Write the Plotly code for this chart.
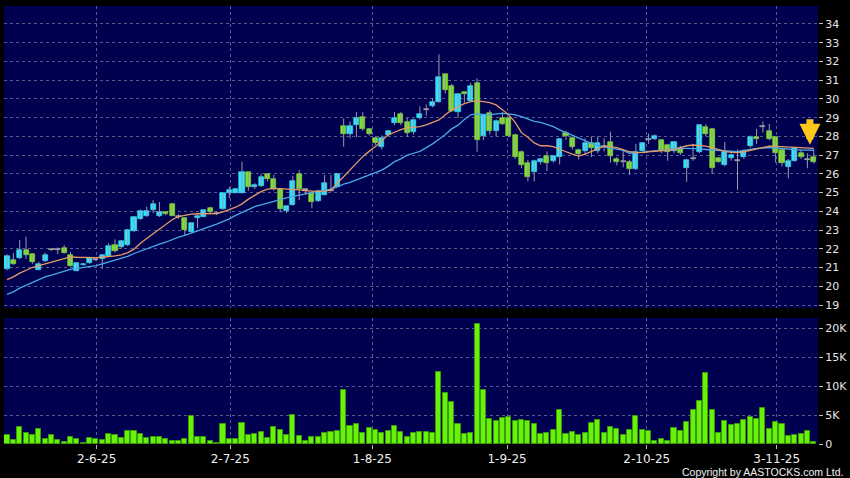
import plotly.graph_objects as go

# ---------------- data ----------------
opens = [20.9, 21.4, 21.5, 21.96, 21.7, 20.88, 21.33, 21.95, 21.95, 22.02,
         21.67, 20.82, 21.15, 21.23, 21.42, 21.46, 21.63, 22.2, 22.07, 22.2, 22.93,
         23.58, 23.75, 24.07, 23.75, 23.95, 24.38, 23.72, 23.63, 22.88, 23.63,
         23.72, 24.2, 23.9, 24.13, 24.98, 25.0, 25.0, 26.08, 25.28, 25.37,
         25.98, 25.71, 25.18, 24.04, 24.34, 25.98, 25.14, 25.0, 24.55, 24.88,
         25.1, 25.32, 28.58, 28.11, 28.6, 29.06, 28.38, 27.93, 27.42, 28.08,
         28.7, 29.2, 28.78, 28.22, 28.96, 29.45, 29.64, 29.85, 31.31, 30.71,
         29.32, 30.38, 29.9, 30.83, 28.0, 29.26, 28.28, 28.96, 29.0, 28.1,
         27.18, 26.56, 26.08, 26.65, 26.95, 26.7, 26.91, 28.16, 27.93, 27.27,
         27.23, 27.66, 27.23, 27.45, 27.72, 26.77, 26.65, 26.61, 26.24, 27.23,
         27.84, 27.86, 27.8, 27.54, 27.23, 27.4, 26.29, 26.83, 27.18, 28.52,
         28.37, 26.83, 26.47, 26.83, 26.7, 26.88, 27.5, 27.98, 28.55, 28.3,
         27.95, 27.3, 26.38, 26.7, 27.09, 26.77, 26.88]
highs = [21.7, 21.77, 22.46, 22.65, 21.75, 21.3, 21.8, 22.0, 22.07, 22.2,
         21.82, 21.3, 21.25, 21.55, 21.5, 21.7, 22.3, 22.5, 22.45, 23.05, 23.75,
         24.1, 24.25, 24.6, 24.5, 24.0, 24.45, 23.85, 23.7, 23.4, 23.85,
         24.1, 24.25, 24.0, 24.98, 25.3, 25.25, 26.65, 26.1, 25.5, 26.0,
         26.05, 25.95, 25.2, 24.3, 25.9, 26.2, 25.2, 25.05, 25.15, 25.94,
         25.94, 26.05, 28.95, 28.8, 29.3, 29.29, 28.45, 28.0, 28.05, 28.35,
         29.3, 29.3, 29.0, 28.95, 29.6, 29.7, 30.05, 32.38, 31.35, 30.8,
         30.3, 30.4, 30.85, 31.1, 29.14, 29.4, 28.9, 29.3, 29.05, 28.15,
         27.25, 26.75, 26.75, 26.85, 27.2, 27.0, 27.9, 28.3, 28.0, 27.35,
         27.9, 28.0, 28.0, 27.9, 28.25, 26.9, 27.3, 26.75, 27.6, 27.7,
         28.15, 28.1, 27.85, 27.6, 27.75, 27.5, 26.8, 27.6, 28.65, 28.65,
         28.45, 26.9, 27.7, 27.1, 27.3, 27.3, 28.05, 28.4, 28.8, 28.66,
         28.0, 27.35, 26.8, 27.45, 27.3, 27.1, 27.3]
lows = [20.85, 21.15, 21.45, 21.46, 21.2, 20.85, 21.3, 21.9, 21.72, 21.75,
        21.05, 20.8, 21.1, 21.2, 21.35, 20.93, 21.6, 21.8, 22.0, 22.15, 22.9,
        23.55, 23.7, 23.9, 23.7, 23.8, 23.75, 23.6, 22.69, 22.85, 23.1,
        23.7, 23.9, 23.8, 24.08, 24.7, 24.95, 24.95, 25.1, 25.2, 25.3,
        25.6, 25.1, 23.95, 23.9, 24.3, 24.6, 24.9, 24.16, 24.5, 24.85,
        25.05, 25.3, 27.45, 27.9, 27.95, 28.3, 28.05, 27.55, 27.3, 28.0,
        28.6, 28.6, 27.98, 28.1, 28.9, 29.1, 29.55, 29.8, 30.3, 29.3,
        29.0, 29.8, 29.85, 27.18, 27.8, 28.1, 28.0, 28.6, 27.95, 26.8,
        26.3, 25.6, 25.6, 26.5, 26.15, 26.6, 26.5, 27.8, 27.3, 26.77,
        27.0, 26.9, 27.1, 27.2, 26.6, 26.45, 26.35, 25.95, 26.2, 27.2,
        27.6, 27.8, 27.1, 26.7, 27.1, 27.0, 25.58, 26.7, 27.1, 28.0,
        25.99, 26.6, 26.4, 26.7, 25.14, 26.8, 27.4, 27.6, 28.2, 27.8,
        26.6, 26.4, 25.76, 26.65, 26.8, 26.3, 26.55]
closes = [21.6, 21.2, 21.93, 21.67, 21.28, 21.18, 21.65, 21.95, 21.95, 21.77,
          21.07, 21.25, 21.2, 21.49, 21.42, 21.65, 22.16, 21.86, 22.42, 23.0, 23.7,
          24.02, 24.02, 24.4, 23.95, 23.85, 23.77, 23.72, 23.0, 23.36, 23.75,
          24.07, 23.95, 23.9, 24.96, 25.14, 25.18, 26.08, 25.28, 25.4, 25.82,
          25.71, 25.18, 24.1, 24.29, 25.62, 25.2, 25.14, 24.52, 25.09, 25.53,
          25.1, 25.98, 28.11, 28.58, 29.0, 28.38, 28.11, 27.67, 27.93, 28.3,
          28.97, 28.74, 28.17, 28.88, 29.18, 29.45, 29.85, 31.19, 30.48, 29.37,
          30.26, 30.24, 30.71, 27.8, 29.14, 28.28, 28.82, 28.64, 28.04, 26.88,
          26.47, 25.85, 26.68, 26.79, 26.6, 26.95, 27.84, 28.02, 27.41, 27.06,
          27.66, 27.36, 27.63, 27.45, 26.95, 26.61, 26.65, 26.24, 27.18, 27.63,
          27.84, 28.02, 27.23, 27.15, 27.68, 27.09, 26.74, 26.83, 28.6, 28.12,
          26.29, 26.65, 27.18, 27.0, 26.7, 27.23, 27.98, 27.84, 28.55, 27.84,
          27.09, 26.56, 26.7, 27.36, 26.88, 26.77, 26.61]
ma_short = [20.35, 20.5, 20.7, 20.85, 21.0, 21.1, 21.2, 21.3, 21.4, 21.5,
            21.57, 21.55, 21.53, 21.53, 21.53, 21.55, 21.58, 21.62, 21.68, 21.8,
            21.98, 22.3, 22.55, 22.8, 23.05, 23.3, 23.55, 23.72, 23.8, 23.85,
            23.87, 23.87, 23.85, 23.88, 23.97, 24.08, 24.22, 24.4, 24.65, 24.85,
            25.05, 25.18, 25.22, 25.21, 25.2, 25.18, 25.14, 25.1, 25.07, 25.05,
            25.08, 25.14, 25.5, 25.85, 26.2, 26.55, 26.92, 27.2, 27.46, 27.77,
            28.08, 28.22, 28.36, 28.45, 28.48, 28.52, 28.62, 28.75, 28.88, 29.15, 29.4,
            29.58, 29.75, 29.85, 29.9, 29.86, 29.8, 29.68, 29.4, 29.15, 28.75,
            28.2, 27.95, 27.65, 27.5, 27.5, 27.45, 27.3, 27.18, 27.05, 26.95,
            27.05, 27.2, 27.35, 27.48, 27.45, 27.4, 27.3, 27.18, 27.15, 27.13,
            27.17, 27.2, 27.25, 27.28, 27.3, 27.4, 27.5, 27.54, 27.52, 27.48,
            27.4, 27.28, 27.2, 27.15, 27.13, 27.18, 27.25, 27.32, 27.4, 27.48,
            27.47, 27.45, 27.43, 27.41, 27.39, 27.37, 27.36]
ma_long = [19.57, 19.7, 19.9, 20.05, 20.2, 20.35, 20.5, 20.6, 20.7, 20.8,
           20.9, 20.95, 21.0, 21.05, 21.1, 21.2, 21.3, 21.4, 21.5, 21.6,
           21.75, 21.88, 22.0, 22.15, 22.25, 22.35, 22.5, 22.62, 22.72, 22.85,
           22.97, 23.08, 23.2, 23.32, 23.45, 23.6, 23.78, 23.95, 24.12, 24.25,
           24.35, 24.45, 24.55, 24.65, 24.72, 24.8, 24.88, 24.95, 25.0, 25.07,
           25.12, 25.18, 25.3, 25.45, 25.55, 25.68, 25.8, 25.92, 26.05, 26.2,
           26.4, 26.65, 26.8, 27.0, 27.1, 27.2, 27.4, 27.6, 27.85, 28.1, 28.4,
           28.6, 28.9, 29.15, 29.2, 29.18, 29.15, 29.2, 29.23, 29.2, 29.15,
           29.05, 28.92, 28.8, 28.75, 28.65, 28.52, 28.35, 28.2, 28.05, 27.9,
           27.75, 27.63, 27.52, 27.42, 27.36, 27.32, 27.25, 27.1, 27.12, 27.16,
           27.2, 27.24, 27.28, 27.32, 27.36, 27.36, 27.36, 27.36, 27.33, 27.3,
           27.28, 27.25, 27.23, 27.2, 27.18, 27.25, 27.32, 27.36, 27.38, 27.4,
           27.38, 27.35, 27.3, 27.28, 27.27, 27.27, 27.26]
volumes = [1575, 640, 2900, 1870, 1520, 2570, 820, 1630, 700, 410,
           1280, 820, 230, 1110, 820, 700, 1750, 1630, 1050, 2270, 2330,
           1750, 1110, 1280, 1220, 820, 580, 580, 930, 4780, 1220,
           1280, 580, 230, 3380, 930, 930, 3610, 1570, 1750, 2100,
           1110, 2860, 2500, 1630, 5010, 1400, 470, 1280, 1170, 1980,
           2040, 2330, 9270, 3030, 3500, 1920, 2680, 2450, 1980, 2220,
           3150, 2100, 1280, 1980, 2040, 2040, 1870, 12360, 8745, 7290,
           3500, 1750, 1920, 20700, 9330, 4260, 3900, 4550, 4660, 3960,
           4080, 3900, 3500, 1750, 1980, 2450, 5830, 1750, 2100, 1520,
           1870, 3610, 4200, 1980, 2860, 2620, 1630, 2500, 4780, 2500,
           2270, 580, 930, 470, 2800, 2160, 3730, 5830, 7400, 12240,
           5830, 1870, 3900, 3260, 3380, 4080, 4660, 4260, 6300, 2620,
           3790, 3440, 1340, 1570, 1690, 2220, 290]
date_tick_pos = [14.12, 35.15, 57.51, 78.72, 100.71, 121.17]
date_tick_labels = ["2-6-25", "2-7-25", "1-8-25", "1-9-25", "2-10-25", "3-11-25"]
price_ticks = list(range(19, 35))
vol_ticks = [0, 5000, 10000, 15000, 20000]
vol_tick_labels = ["0", "5K", "10K", "15K", "20K"]

# ---------------- derived ----------------
n = len(closes)
idx = list(range(n))
UP, DOWN, FLAT = "#2fe4ff", "#7fe12a", "#b4b4b4"
body_base, body_h, body_col = [], [], []
for o, c in zip(opens, closes):
    lo_b, hi_b = min(o, c), max(o, c)
    h = hi_b - lo_b
    if h < 0.05:
        body_base.append((o + c) / 2 - 0.03)
        body_h.append(0.06)
        body_col.append(FLAT)
    else:
        body_base.append(lo_b)
        body_h.append(h)
        body_col.append(UP if c > o else DOWN)

wx, wy = [], []
for i in idx:
    wx += [i, i, None]
    wy += [lows[i], highs[i], None]

fig = go.Figure()
fig.add_trace(go.Scatter(x=wx, y=wy, mode="lines", line=dict(color="#9a9aa8", width=1),
                         xaxis="x", yaxis="y", hoverinfo="skip", showlegend=False))
fig.add_trace(go.Bar(x=idx, y=body_h, base=body_base, width=0.8,
                     marker=dict(color=body_col, line=dict(color=body_col, width=0.6)),
                     xaxis="x", yaxis="y", showlegend=False))
fig.add_trace(go.Scatter(x=idx, y=ma_long, mode="lines", line=dict(color="#4aa8e6", width=1.3),
                         xaxis="x", yaxis="y", showlegend=False))
fig.add_trace(go.Scatter(x=idx, y=ma_short, mode="lines", line=dict(color="#e49a66", width=1.3),
                         xaxis="x", yaxis="y", showlegend=False))
fig.add_trace(go.Bar(x=idx, y=volumes, width=0.8,
                     marker=dict(color="#66f20a", line=dict(color="#3c9a08", width=1)),
                     xaxis="x2", yaxis="y2", showlegend=False))

grid = "#5a5a88"
gdash = "3px,3px"
xr = [-0.47, 127.67]
H_TOTAL = 478 - 6 - 34
fig.update_layout(
    width=850, height=478,
    margin=dict(l=4, r=32, t=6, b=34),
    paper_bgcolor="#000000", plot_bgcolor="#000050",
    bargap=0, barmode="overlay",
    font=dict(family="DejaVu Sans", color="#e6e6e6", size=11),
    xaxis=dict(domain=[0, 1], range=xr, anchor="y", showticklabels=False,
               tickvals=date_tick_pos, showgrid=True, gridcolor=grid, griddash=gdash,
               gridwidth=1, zeroline=False, ticks=""),
    yaxis=dict(domain=[(444 - 308) / H_TOTAL, 1], range=[18.84, 34.96], side="right",
               tickvals=price_ticks, ticks="outside", ticklen=4, tickcolor="#bbbbbb",
               showgrid=True, gridcolor=grid, griddash=gdash, zeroline=False,
               tickfont=dict(size=11, color="#e6e6e6")),
    xaxis2=dict(domain=[0, 1], range=xr, anchor="y2", tickvals=date_tick_pos,
                ticktext=date_tick_labels, ticks="outside", ticklen=4, tickcolor="#bbbbbb",
                showgrid=True, gridcolor=grid, griddash=gdash, zeroline=False,
                tickfont=dict(size=12, color="#eeeeee")),
    yaxis2=dict(domain=[0, (444 - 318) / H_TOTAL], range=[0, 21750], side="right",
                tickvals=vol_ticks, ticktext=vol_tick_labels, ticks="outside", ticklen=4,
                tickcolor="#bbbbbb", showgrid=True, gridcolor=grid, griddash=gdash,
                zeroline=False, tickfont=dict(size=11, color="#e6e6e6")),
    annotations=[
        dict(x=126.4, y=27.55, xref="x", yref="y", ax=0, ay=-27, showarrow=True,
             arrowcolor="#ffc81a", arrowwidth=7, arrowhead=2, arrowsize=0.6, text=""),
        dict(x=1, y=0, xref="paper", yref="paper", xanchor="right", yanchor="top",
             xshift=27, yshift=-20, showarrow=False, text="Copyright by AASTOCKS.com Ltd.",
             font=dict(family="Liberation Sans", size=10.5, color="#f0f0f0")),
    ],
)
fig.write_html("out.html", config={"displayModeBar": False},
               post_script="document.body.style.margin='0px';")
